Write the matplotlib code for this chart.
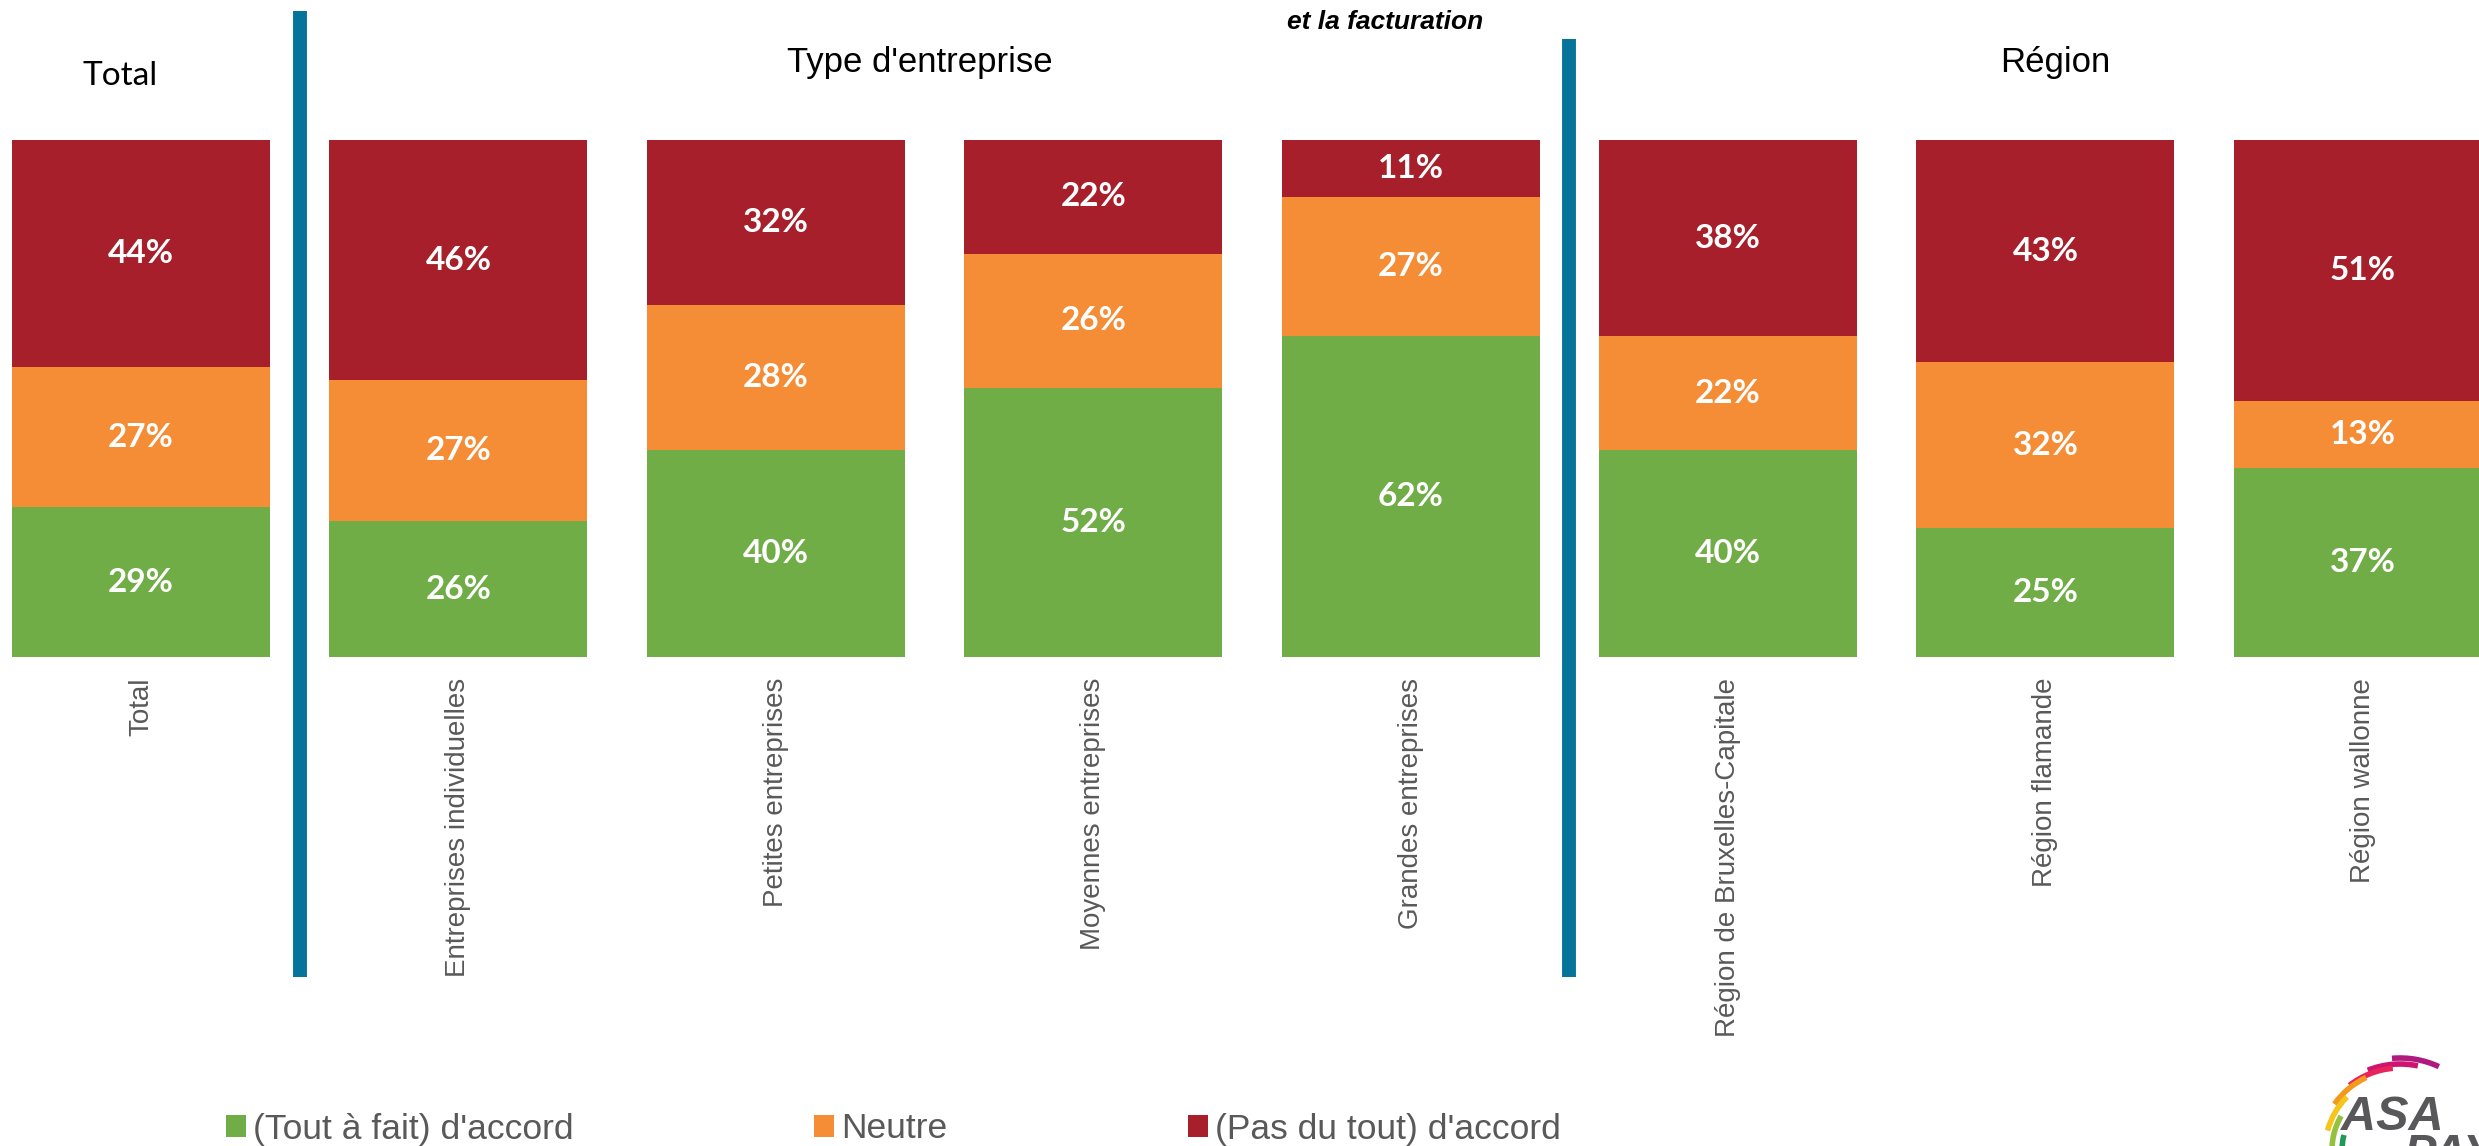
import matplotlib
matplotlib.use("Agg")
import matplotlib.pyplot as plt
from matplotlib.patches import Arc

# Survey shares per group (bottom -> top: agree, neutral, disagree)
categories = ["Total", "Entreprises individuelles", "Petites entreprises",
              "Moyennes entreprises", "Grandes entreprises",
              "Région de Bruxelles-Capitale", "Région flamande", "Région wallonne"]
accord = [29, 26, 40, 52, 62, 40, 25, 37]
neutre = [27, 27, 28, 26, 27, 22, 32, 13]
pas_accord = [44, 46, 32, 22, 11, 38, 43, 51]

series_names = ["(Tout à fait) d'accord", "Neutre", "(Pas du tout) d'accord"]
colors = ["#70AD47", "#F58D36", "#A61F2A"]
group_titles = ["Total", "Type d'entreprise", "Région"]

W, H = 2479, 1146
fig = plt.figure(figsize=(W / 100, H / 100), dpi=100)
fig.patch.set_facecolor("white")


def fx(px):
    return px / W


def fy(py):
    return 1 - py / H


# main axes: bar area from y=140 to y=657 px, full width
ax = fig.add_axes([0, fy(657), 1, (657 - 140) / H])

x = list(range(len(categories)))
series = [accord, neutre, pas_accord]
totals = [sum(v) for v in zip(*series)]

bottoms = [0.0] * len(categories)
handles = []
for vals, col, name in zip(series, colors, series_names):
    shares = [v / t for v, t in zip(vals, totals)]
    bars = ax.bar(x, shares, width=0.813, bottom=bottoms, color=col,
                  linewidth=0, label=name)
    handles.append(bars)
    for xi, b, s, v in zip(x, bottoms, shares, vals):
        ax.text(xi, b + s / 2, f"{v}%", ha="center", va="center",
                color="white", fontsize=24, fontweight="bold", family="Lato")
    bottoms = [b + s for b, s in zip(bottoms, shares)]

ax.set_xlim(-141 / 317.4, (W - 141) / 317.4)
ax.set_ylim(0, 1)
ax.set_yticks([])
ax.set_xticks(x)
ax.set_xticklabels(categories, rotation=90, ha="center", va="top",
                   fontsize=20, color="#595959", family="Liberation Sans")
ax.tick_params(axis="x", length=0, pad=15)
for sp in ax.spines.values():
    sp.set_visible(False)

# group separators
tr = ax.get_xaxis_transform()
ax.plot([0.5, 0.5], [(657 - 977) / 517, (657 - 11) / 517], transform=tr,
        color="#06739A", lw=10, solid_capstyle="butt", clip_on=False)
ax.plot([4.5, 4.5], [(657 - 977) / 517, (657 - 39) / 517], transform=tr,
        color="#06739A", lw=10, solid_capstyle="butt", clip_on=False)

# group titles
fig.text(fx(120), fy(85), group_titles[0], ha="center", va="baseline",
         fontsize=24, family="Lato", color="black")
fig.text(fx(920), fy(72), group_titles[1], ha="center", va="baseline",
         fontsize=25, family="Liberation Sans", color="black")
fig.text(fx(2055), fy(72), group_titles[2], ha="center", va="baseline",
         fontsize=25, family="Liberation Sans", color="black")

# tail of the (cropped) chart title
fig.text(fx(1385), fy(29), "et la facturation", ha="center", va="baseline",
         fontsize=19, family="Liberation Sans", fontweight="bold",
         style="italic", color="black")

# legend
fig.legend(handles=handles, labels=series_names, loc="center left",
           bbox_to_anchor=(fx(226), fy(1129)), ncol=3, frameon=False,
           labelcolor="#595959", prop={"family": "Liberation Sans", "size": 25.5},
           handlelength=0.56, handleheight=0.56, handletextpad=0.2,
           columnspacing=6.8, borderpad=0, borderaxespad=0)

# logo (approximation)
lx0, lx1, ly0 = 2260, W, 1030
lax = fig.add_axes([fx(lx0), 0, fx(lx1) - fx(lx0), (H - ly0) / H])
lax.set_xlim(lx0, lx1)
lax.set_ylim(H, ly0)
lax.set_aspect("equal", adjustable="box", anchor="SW")
lax.axis("off")
cx, cy = 2400, 1150
arcs = [(92, 65, 95, "#B0197E"), (86, 78, 112, "#D0136F"), (82, 95, 128, "#E8245A"),
        (80, 115, 145, "#F39A1E"), (75, 135, 165, "#F6C51B"), (68, 150, 185, "#95C23D"),
        (58, 165, 200, "#1E9A56"), (50, 185, 215, "#16A0B4")]
for r, t1, t2, col in arcs:
    lax.add_patch(Arc((cx, cy), 2 * r, 2 * r, theta1=360 - t2, theta2=360 - t1,
                      color=col, lw=4))
lax.text(2392, 1130, "ASA", ha="center", va="baseline", fontsize=35,
         fontweight="bold", style="italic", color="#58585A",
         family="Liberation Sans")
lax.text(2403, 1133, "PAY", ha="left", va="top", fontsize=35,
         fontweight="bold", style="italic", color="#58585A",
         family="Liberation Sans")

fig.savefig("out.png", dpi=100, facecolor="white")
